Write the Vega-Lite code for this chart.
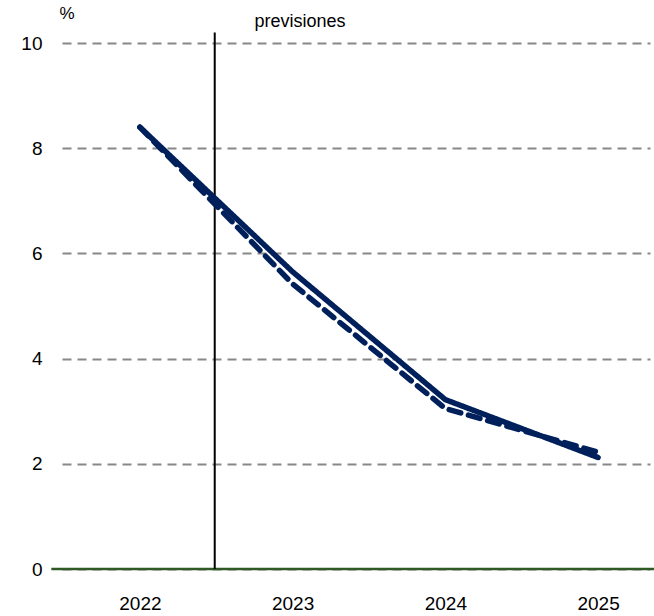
{
  "$schema": "https://vega.github.io/schema/vega-lite/v6.json",
  "autosize": {"type": "none"},
  "padding": {"left": 62, "top": 43, "right": 4, "bottom": 47},
  "width": 588,
  "height": 526,
  "background": "white",
  "config": {
    "view": {"stroke": null},
    "font": "Liberation Sans",
    "axis": {"labelFont": "Liberation Sans", "titleFont": "Liberation Sans"}
  },
  "datasets": {
    "series": [
      {"year": 2022, "value": 8.4, "serie": "actual"},
      {"year": 2023, "value": 5.65, "serie": "actual"},
      {"year": 2024, "value": 3.22, "serie": "actual"},
      {"year": 2025, "value": 2.12, "serie": "actual"},
      {"year": 2022, "value": 8.4, "serie": "anterior"},
      {"year": 2023, "value": 5.42, "serie": "anterior"},
      {"year": 2024, "value": 3.05, "serie": "anterior"},
      {"year": 2025, "value": 2.22, "serie": "anterior"}
    ]
  },
  "layer": [
    {
      "data": {"values": [{"x": 2021.42, "x2": 2025.37, "y": 0}]},
      "mark": {"type": "rule", "color": "#2f5a26", "strokeWidth": 2.5, "clip": false},
      "encoding": {
        "x": {"field": "x", "type": "quantitative", "scale": {"domain": [2021.49, 2025.34], "nice": false, "zero": false},
          "axis": {"values": [2022, 2023, 2024, 2025], "format": "d", "domain": false, "ticks": false, "grid": false, "labelFontSize": 19, "labelColor": "black", "labelPadding": 25, "title": null, "labelFlush": false}},
        "x2": {"field": "x2"},
        "y": {"field": "y", "type": "quantitative", "scale": {"domain": [0, 10], "nice": false},
          "axis": {"values": [0, 2, 4, 6, 8, 10], "domain": false, "ticks": false, "grid": true, "gridColor": "#888888", "gridDash": [9, 6], "gridWidth": 2, "labelFontSize": 19, "labelColor": "black", "labelPadding": 20, "title": "%", "titleAngle": 0, "titleFontSize": 17, "titleFontWeight": "normal", "titleColor": "black", "titleAlign": "left", "titleBaseline": "bottom", "titleX": -3, "titleY": -21}}
      }
    },
    {
      "data": {"values": [{"x": 2022.49, "y": 0, "y2": 10.2}]},
      "mark": {"type": "rule", "color": "black", "strokeWidth": 2, "clip": false},
      "encoding": {
        "x": {"field": "x", "type": "quantitative"},
        "y": {"field": "y", "type": "quantitative"},
        "y2": {"field": "y2"}
      }
    },
    {
      "data": {"values": [{"x": 2022.75, "y": 10.22, "t": "previsiones"}]},
      "mark": {"type": "text", "align": "left", "baseline": "bottom", "fontSize": 18, "color": "black", "clip": false},
      "encoding": {
        "x": {"field": "x", "type": "quantitative"},
        "y": {"field": "y", "type": "quantitative"},
        "text": {"field": "t"}
      }
    },
    {
      "data": {"name": "series"},
      "mark": {"type": "line", "color": "#00205b", "strokeWidth": 5.5, "strokeCap": "round", "strokeJoin": "round"},
      "encoding": {
        "x": {"field": "year", "type": "quantitative"},
        "y": {"field": "value", "type": "quantitative"},
        "detail": {"field": "serie"},
        "strokeDash": {"field": "serie", "type": "nominal", "scale": {"domain": ["actual", "anterior"], "range": [[1, 0], [12, 8]]}, "legend": null},
        "order": {"field": "serie", "sort": "descending"}
      }
    }
  ]
}
